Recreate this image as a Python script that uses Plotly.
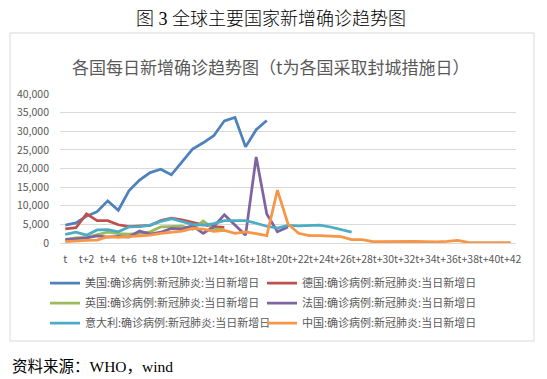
import plotly.graph_objects as go

categories = ["t"] + [f"t+{i}" for i in range(1, 43)]
tick_labels = categories[::2]

us = [4800, 5400, 7200, 8400, 11300, 8800, 14000, 16900, 18900, 19800, 18300, 21700,
      25200, 26900, 28800, 32800, 33700, 25800, 30400, 32900]
germany = [3800, 4100, 7800, 6000, 6000, 4900, 4400, 4500, 4700, 6000, 6700, 6200,
           5500, 4900, 4400, 4200]
uk = [1000, 1400, 1500, 2100, 2900, 2500, 2400, 2600, 3000, 4300, 4500, 4500, 3700,
      5900, 3800, 3600]
france = [900, 1100, 1400, 1900, 1600, 1800, 1600, 3200, 2400, 2900, 3900, 3800, 4600,
          2600, 4400, 7600, 4900, 2100, 23100, 7800, 3000, 4300]
italy = [2300, 2900, 2100, 3500, 3600, 3000, 4300, 4400, 4800, 5800, 6500, 5800, 5000,
         4800, 5200, 6000, 5900, 6000, 5300, 4500, 4000, 4700, 4600, 4600, 4800, 4300,
         3500, 2900]
china = [400, 600, 700, 800, 1700, 1500, 1700, 2000, 2100, 2600, 2800, 3200, 3900, 3700,
         3100, 3400, 2600, 3000, 2500, 2000, 14200, 5100, 2600, 2000, 2000, 1900, 1700,
         900, 900, 350, 400, 450, 500, 450, 400, 300, 450, 700, 150, 120, 120, 100, 80]

series = [
    ("美国:确诊病例:新冠肺炎:当日新增日", us, "#4F81BD", "legend"),
    ("德国:确诊病例:新冠肺炎:当日新增日", germany, "#C0504D", "legend"),
    ("英国:确诊病例:新冠肺炎:当日新增日", uk, "#9BBB59", "legend2"),
    ("法国:确诊病例:新冠肺炎:当日新增日", france, "#8064A2", "legend2"),
    ("意大利:确诊病例:新冠肺炎:当日新增日", italy, "#4BACC6", "legend3"),
    ("中国:确诊病例:新冠肺炎:当日新增日", china, "#F79646", "legend3"),
]

# page body has an 8px margin; work in reference (screen) coordinates
OFF = 8
W, H = 547 - OFF, 379 - OFF
L, R, T, B = 60, 516, 94, 243  # plot area in screen coords
pw, ph = R - L, B - T


def px(x):
    return (x - L) / pw


def py(y):
    return (B - y) / ph


fig = go.Figure()
for name, vals, color, lg in series:
    fig.add_trace(go.Scatter(
        x=categories[:len(vals)], y=vals, name=name, mode="lines",
        line=dict(color=color, width=2.75), legend=lg,
    ))

cjk = "Noto Sans CJK SC"
serif = "Liberation Serif, Noto Sans CJK SC"
grey = "#595959"


def legend_row(yc):
    return dict(
        orientation="h", x=px(45), xanchor="left", y=py(yc), yanchor="middle",
        entrywidth=172, entrywidthmode="pixels", itemwidth=30,
        font=dict(size=11, color=grey, family=cjk),
        bgcolor="rgba(0,0,0,0)", borderwidth=0,
    )


fig.update_layout(
    width=W, height=H,
    margin=dict(l=L - OFF, r=W - (R - OFF), t=T - OFF, b=H - (B - OFF), pad=0,
                autoexpand=False),
    paper_bgcolor="white", plot_bgcolor="white",
    font=dict(family=cjk, color=grey),
    showlegend=True,
    legend=legend_row(283),
    legend2=legend_row(303),
    legend3=legend_row(323),
    xaxis=dict(
        type="category", categoryorder="array", categoryarray=categories,
        range=[-0.5, 42.5], tickvals=tick_labels, ticktext=tick_labels,
        showgrid=False, showline=True, linecolor="#d9d9d9", linewidth=1,
        ticks="", tickfont=dict(size=10.5, color=grey, family=cjk),
        ticklabelstandoff=6, tickangle=0, fixedrange=True,
    ),
    yaxis=dict(
        range=[0, 40000], dtick=5000, tickformat=",",
        showgrid=True, gridcolor="#d9d9d9", gridwidth=1, zeroline=False,
        showline=False, ticks="", tickfont=dict(size=10.5, color=grey, family=cjk),
        ticklabelstandoff=10, fixedrange=True,
    ),
    shapes=[dict(type="rect", xref="paper", yref="paper",
                 x0=px(10), x1=px(534), y0=py(341), y1=py(33),
                 line=dict(color="#d9d9d9", width=1), fillcolor="rgba(0,0,0,0)",
                 layer="below")],
    annotations=[
        dict(text="图 3 全球主要国家新增确诊趋势图", xref="paper", yref="paper",
             x=px(271), y=py(19), xanchor="center", yanchor="middle", showarrow=False,
             font=dict(size=18, color="#000000", family=serif, weight=300)),
        dict(text="各国每日新增确诊趋势图（t为各国采取封城措施日）", xref="paper", yref="paper",
             x=px(270), y=py(67), xanchor="center", yanchor="middle", showarrow=False,
             font=dict(size=17, color=grey, family=cjk)),
        dict(text="资料来源：WHO，wind", xref="paper", yref="paper",
             x=px(10), y=py(366), xanchor="left", yanchor="middle", showarrow=False,
             font=dict(size=15.5, color="#000000", family=serif)),
    ],
)

fig.write_html("out.html")
